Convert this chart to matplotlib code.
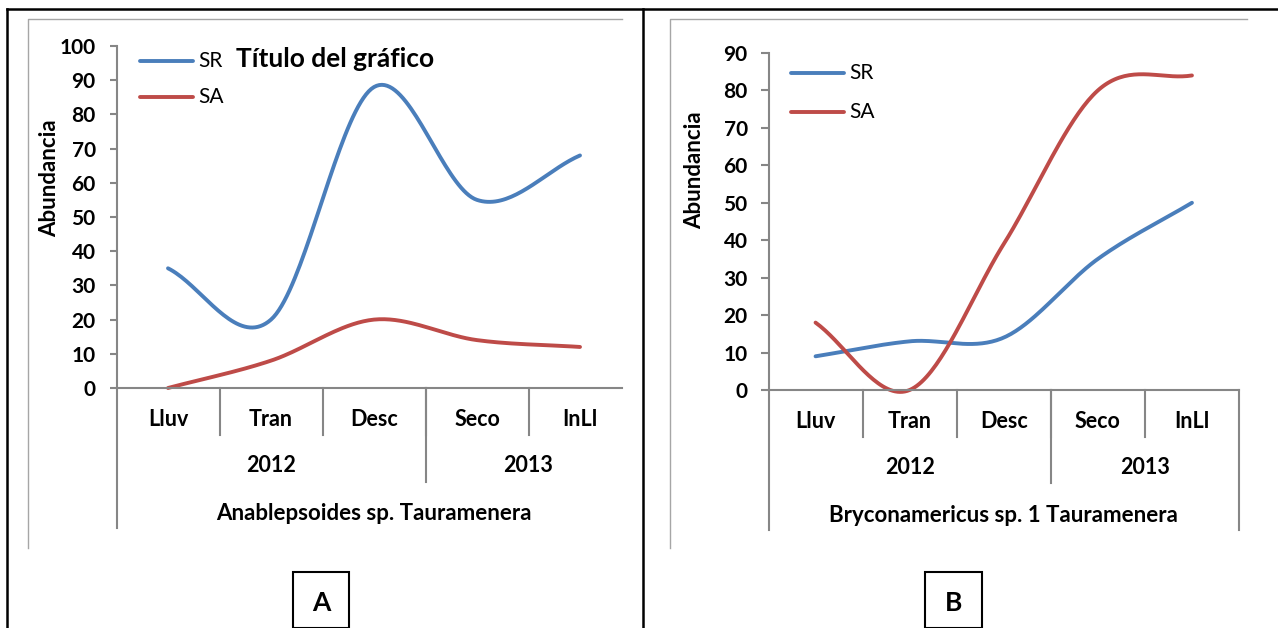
import numpy as np
import matplotlib
matplotlib.use('Agg')
import matplotlib.pyplot as plt
import matplotlib.transforms as mtransforms
from matplotlib.lines import Line2D
from matplotlib.patches import Rectangle

plt.rcParams['font.family'] = ['Lato', 'DejaVu Sans']

# data
seasons = ['Lluv', 'Tran', 'Desc', 'Seco', 'InLl']
years = ['2012', '2013']
year_centers = [1, 3.5]
sr_a = [35, 20, 88, 55, 68]
sa_a = [0, 8, 20, 14, 12]
sr_b = [9, 13, 14, 35, 50]
sa_b = [18, 0, 39, 80, 84]
title_a = 'Anablepsoides sp. Tauramenera'
title_b = 'Bryconamericus sp. 1 Tauramenera'

W, H = 1278, 628
BLUE = '#4A7EBB'
RED = '#BE4B48'
GRAY = '#868686'


def fx(px):
    return px / W


def fy(py):
    return 1 - py / H


def smooth(y, n=40):
    # excel-like smoothed line (cubic hermite, catmull-rom tangents)
    y = np.asarray(y, float)
    m = np.empty_like(y)
    m[1:-1] = (y[2:] - y[:-2]) / 2
    m[0] = y[1] - y[0]
    m[-1] = y[-1] - y[-2]
    xs, ys = [], []
    for i in range(len(y) - 1):
        t = np.linspace(0, 1, n)
        h00 = 2*t**3 - 3*t**2 + 1
        h10 = t**3 - 2*t**2 + t
        h01 = -2*t**3 + 3*t**2
        h11 = t**3 - t**2
        xs.append(i + t)
        ys.append(h00*y[i] + h10*m[i] + h01*y[i+1] + h11*m[i+1])
    return np.concatenate(xs), np.concatenate(ys)


fig = plt.figure(figsize=(W / 100, H / 100), dpi=100)

# outer table lines
for (x0, y0, x1, y1) in [(7, 9, W, 9), (7, 9, 7, H), (643, 9, 643, H)]:
    fig.add_artist(Line2D([fx(x0), fx(x1)], [fy(y0), fy(y1)], color='black', lw=1.8))


def panel(left, right, ybot, ytop, ymax, sr, sa, title, frame, ylab, leg, tick_len, pad,
          lab_y, right_line, box, letter, main_title=None):
    ax = fig.add_axes([fx(left), fy(ybot), fx(right - left), (ybot - ytop) / H])
    xs, ys = smooth(sr)
    ax.plot(xs, ys, color=BLUE, lw=2.8, solid_capstyle='round')
    xs, ys = smooth(sa)
    ax.plot(xs, ys, color=RED, lw=2.8, solid_capstyle='round')
    ax.set_xlim(-0.5, 4.5)
    ax.set_ylim(0, ymax)
    ax.set_yticks(np.arange(0, ymax + 1, 10))
    ax.set_xticks([])
    for s in ['top', 'right']:
        ax.spines[s].set_visible(False)
    for s in ['left', 'bottom']:
        ax.spines[s].set_color(GRAY)
        ax.spines[s].set_linewidth(1.5)
    # the chart picture in panel A is cut at the frame edge
    x_cut = min(4.5, (frame[2] - left) / (right - left) * 5 - 0.5)
    ax.spines['bottom'].set_bounds(-0.5, x_cut)
    ax.tick_params(axis='y', direction='out', length=tick_len, width=1.5, color=GRAY,
                   pad=pad, labelsize=15)
    for lab in ax.get_yticklabels():
        lab.set_fontweight('bold')
    for l in ax.lines:
        l.set_clip_on(False)

    tr = mtransforms.blended_transform_factory(ax.transData, fig.transFigure)
    cat_y, year_y, title_y, sep1, sep2, axis_end = lab_y
    for i, s in enumerate(seasons):
        fig.text(i, fy(cat_y), s, transform=tr, ha='center', va='center',
                 fontsize=15.5, fontweight='bold')
    for c, yr in zip(year_centers, years):
        fig.text(c, fy(year_y), yr, transform=tr, ha='center', va='center',
                 fontsize=15.5, fontweight='bold')
    fig.text(2, fy(title_y), title, transform=tr, ha='center', va='center',
             fontsize=16, fontweight='bold')
    for b in [0.5, 1.5, 2.5, 3.5]:
        fig.add_artist(Line2D([b, b], [fy(ybot), fy(sep1)], transform=tr, color=GRAY, lw=1.5))
    fig.add_artist(Line2D([2.5, 2.5], [fy(ybot), fy(sep2)], transform=tr, color=GRAY, lw=1.5))
    fig.add_artist(Line2D([-0.5, -0.5], [fy(ybot), fy(axis_end)], transform=tr, color=GRAY, lw=1.5))
    if right_line:
        fig.add_artist(Line2D([4.5, 4.5], [fy(ybot), fy(axis_end)], transform=tr, color=GRAY, lw=1.5))

    # chart area frame (left and top only visible)
    fl, ft, fr, fb = frame
    fig.add_artist(Line2D([fx(fl), fx(fl), fx(fr)], [fy(fb), fy(ft), fy(ft)],
                          color='#A6A6A6', lw=1.0))

    yx, yy = ylab
    fig.text(fx(yx), fy(yy), 'Abundancia', rotation=90, ha='center', va='center',
             fontsize=16, fontweight='bold')

    lx0, lx1, ly_sr, ly_sa = leg
    for yv, c, name in [(ly_sr, BLUE, 'SR'), (ly_sa, RED, 'SA')]:
        fig.add_artist(Line2D([fx(lx0), fx(lx1)], [fy(yv), fy(yv)], color=c, lw=2.8,
                              solid_capstyle='round'))
        fig.text(fx(lx1 + 5), fy(yv), name, ha='left', va='center', fontsize=15)

    if main_title is not None:
        tx, ty = main_title
        fig.text(fx(tx), fy(ty), 'Título del gráfico', ha='left', va='center',
                 fontsize=19, fontweight='bold')

    bx0, bx1, by0 = box
    fig.add_artist(Rectangle((fx(bx0), 0), fx(bx1 - bx0), fy(by0), fill=False,
                             edgecolor='black', lw=1.5, transform=fig.transFigure))
    fig.text(fx((bx0 + bx1) / 2), fy(603), letter, ha='center', va='center',
             fontsize=19, fontweight='bold')
    return ax


panel(116.5, 631.5, 388, 46, 100, sr_a, sa_a, title_a,
      frame=(28, 19, 622, 548), ylab=(50, 178), leg=(140, 193, 61, 97),
      tick_len=5, pad=10, lab_y=(419, 466, 513, 435, 482, 528), right_line=False,
      box=(293, 349, 572), letter='A', main_title=(236, 59))

panel(768.5, 1239, 390, 53, 90, sr_b, sa_b, title_b,
      frame=(670, 19, 1247, 548), ylab=(695, 170), leg=(791, 844, 73, 112),
      tick_len=6, pad=9, lab_y=(421, 468, 515, 437, 483, 530), right_line=True,
      box=(925, 982, 572), letter='B')

fig.savefig('out.png', dpi=100)
